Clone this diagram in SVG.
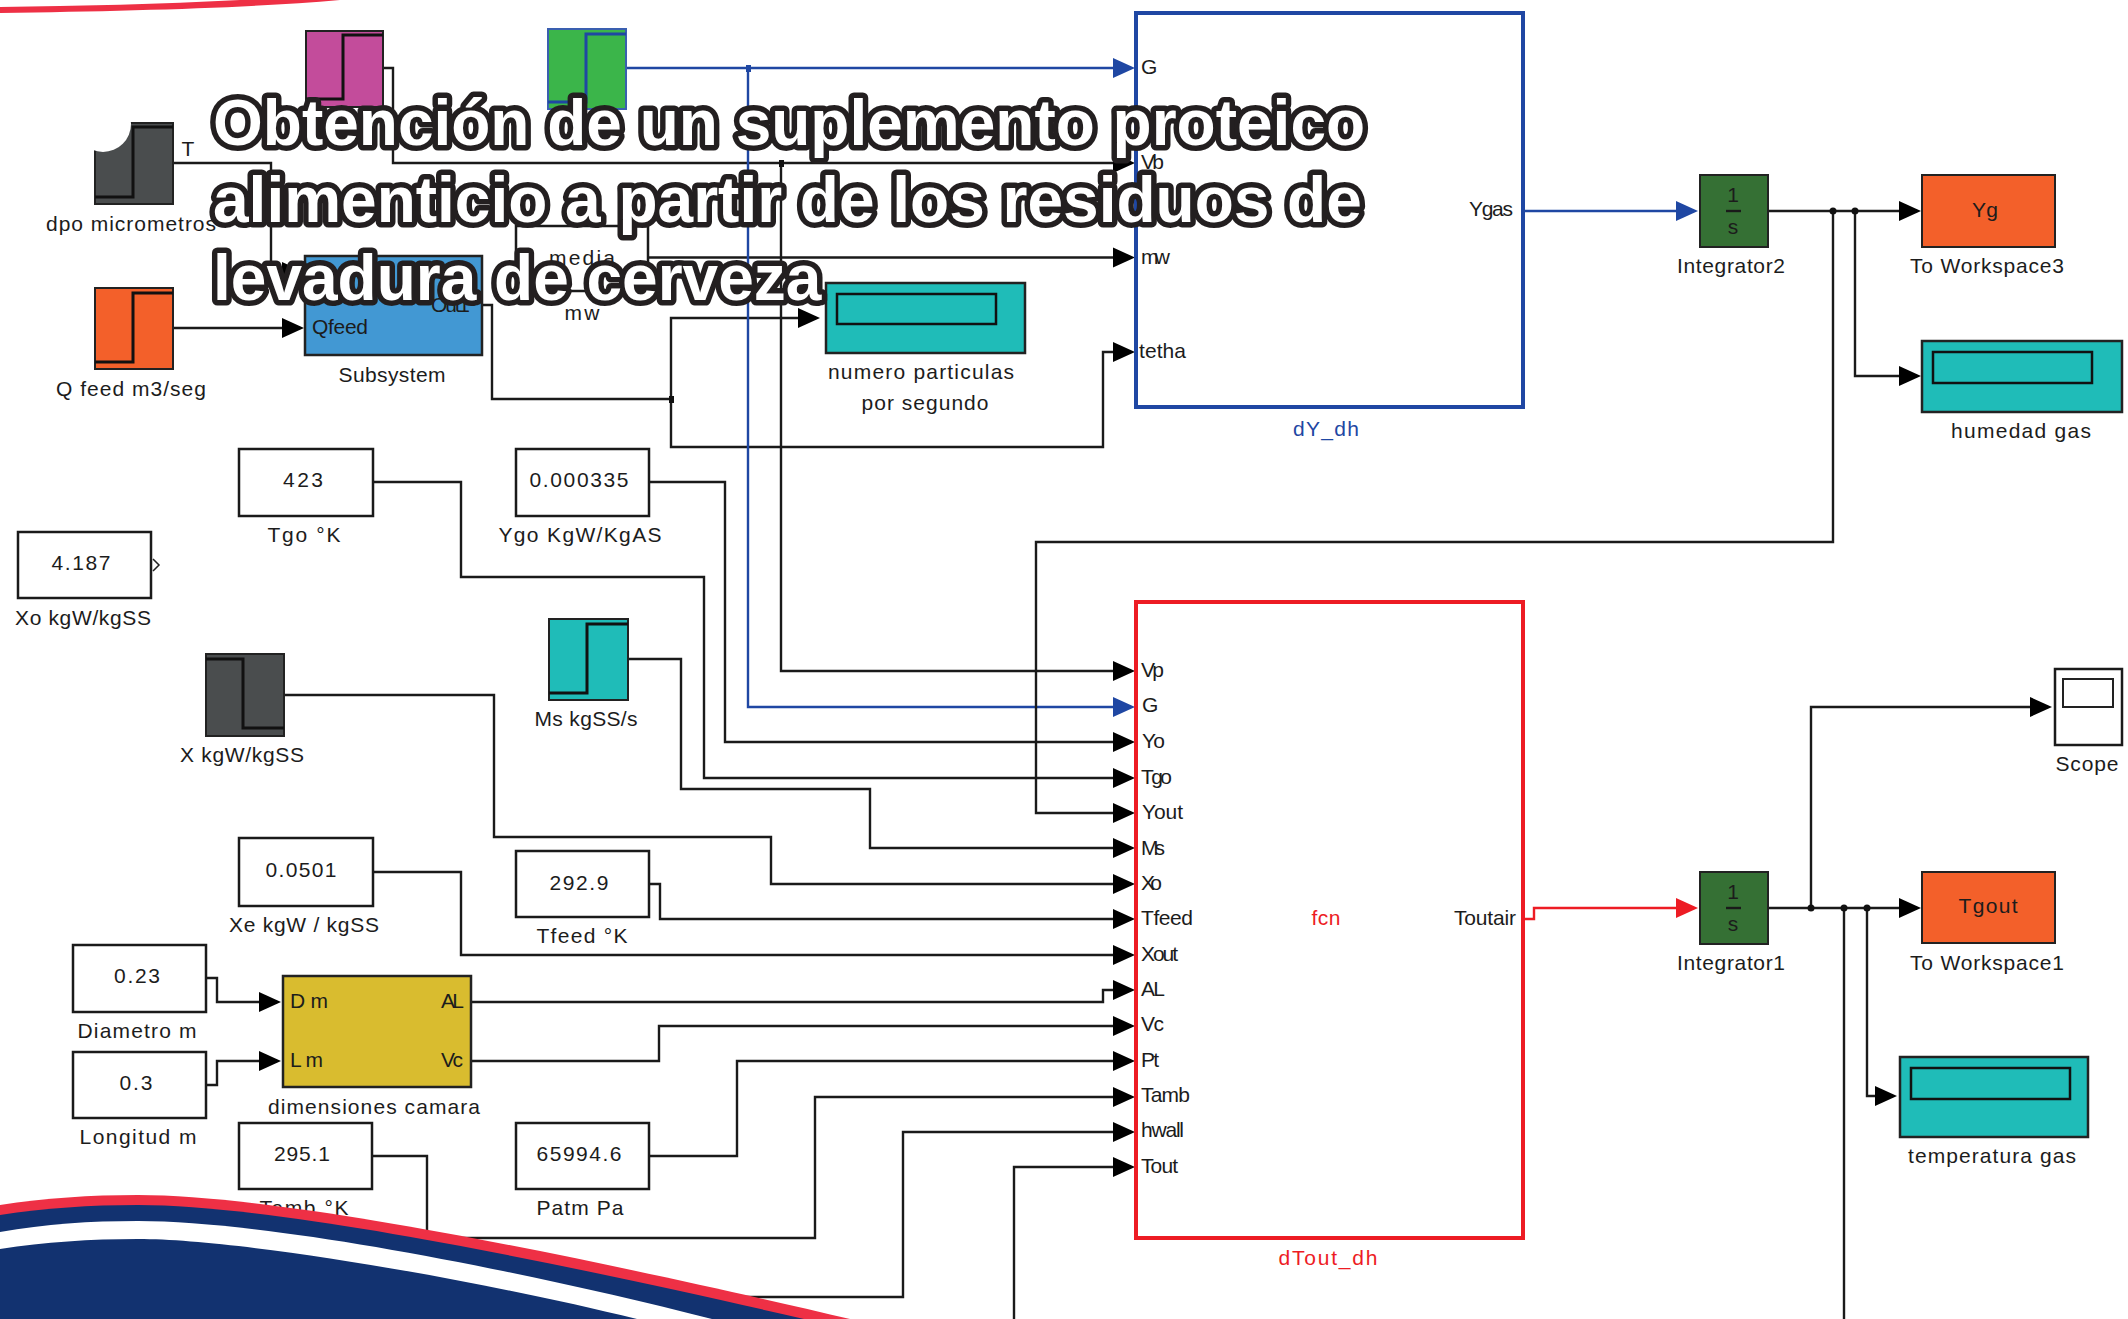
<svg xmlns="http://www.w3.org/2000/svg" width="2128" height="1319" viewBox="0 0 2128 1319">
<style>
text{font-family:"Liberation Sans",Arial,sans-serif;font-size:21px;fill:#1c1c1c}
.m{text-anchor:middle}.e{text-anchor:end}
.b{fill:#fff;stroke:#1a1a1a;stroke-width:2.5}
.s{fill:none;stroke:#111;stroke-width:3}
.w{fill:none;stroke:#1a1a1a;stroke-width:2.4}
.wb{fill:none;stroke:#1f47a3;stroke-width:2.4}
.wr{fill:none;stroke:#ed1c24;stroke-width:2.4}
.a{marker-end:url(#ak)}.ab{marker-end:url(#ab)}.ar{marker-end:url(#ar)}
.t{font-family:"Liberation Sans",Arial,sans-serif;font-weight:700;font-size:64px;fill:#fff;stroke:#231f20;stroke-width:11;stroke-linejoin:round;paint-order:stroke}
</style>
<defs>
<marker id="ak" markerUnits="userSpaceOnUse" markerWidth="24" markerHeight="24" viewBox="0 0 24 24" refX="18" refY="12" orient="auto"><path d="M0 2L22 12L0 22Z" fill="#000"/></marker>
<marker id="ab" markerUnits="userSpaceOnUse" markerWidth="24" markerHeight="24" viewBox="0 0 24 24" refX="18" refY="12" orient="auto"><path d="M0 2L22 12L0 22Z" fill="#1f47a3"/></marker>
<marker id="ar" markerUnits="userSpaceOnUse" markerWidth="24" markerHeight="24" viewBox="0 0 24 24" refX="18" refY="12" orient="auto"><path d="M0 2L22 12L0 22Z" fill="#ed1c24"/></marker>
</defs>
<rect width="2128" height="1319" fill="#fff"/>

<g id="connectors">
<path class="w a" d="M383 68H393V163H1131"/>
<path class="w a" d="M781 163V671H1131"/>
<path class="w a" d="M173 163H271V272H300"/>
<path class="w a" d="M173 328H300"/>
<path class="w" d="M482 305H492V399H671"/>
<path class="w a" d="M671 399V318H816"/>
<path class="w a" d="M671 399V447H1103V352H1131"/>
<path class="w a" d="M648 257.500H1131"/>
<path class="wb ab" d="M626 68H1131"/>
<path class="wb ab" d="M748 68V707H1131"/>
<path class="wb ab" d="M1523 211H1694"/>
<path class="w a" d="M1768 211H1917"/>
<path class="w a" d="M1855 211V376H1917"/>
<path class="w a" d="M1833 211V542H1036V813H1131"/>
<path class="w a" d="M373 482H461V577H704V778H1131"/>
<path class="w a" d="M649 482H725V742H1131"/>
<path class="w a" d="M628 659H681V789H870V848H1131"/>
<path class="w a" d="M284 695H494V837H771V884H1131"/>
<path class="w a" d="M373 872H461V955H1131"/>
<path class="w a" d="M649 884H660V919H1131"/>
<path class="w a" d="M206 978H217V1002H277"/>
<path class="w a" d="M206 1085H217V1061H277"/>
<path class="w a" d="M471 1002H1103V990H1131"/>
<path class="w a" d="M471 1061H659V1026H1131"/>
<path class="w a" d="M372 1156H427V1238H815V1097H1131"/>
<path class="w a" d="M649 1156H737V1061H1131"/>
<path class="w a" d="M700 1297H903V1132H1131"/>
<path class="w a" d="M1014 1319V1167H1131"/>
<path class="wr ar" d="M1523 919H1534V908H1694"/>
<path class="w a" d="M1768 908H1917"/>
<path class="w a" d="M1811 908V707H2048"/>
<path class="w a" d="M1867 908V1096H1893"/>
<path class="w" d="M1844 908V1319"/>
<g fill="#111"><rect x="779" y="160" width="5" height="7"/><rect x="669" y="396" width="5" height="7"/><circle cx="1833" cy="211" r="3.500"/><circle cx="1855" cy="211" r="3.500"/><circle cx="1811" cy="908" r="3.500"/><circle cx="1844" cy="908" r="3.500"/><circle cx="1867" cy="908" r="3.500"/></g>
<rect x="746" y="65" width="5" height="7" fill="#1f47a3"/>
</g>

<g id="src-magenta"><rect x="306" y="31" width="77" height="76" fill="#c34c9b" stroke="#222" stroke-width="2"/><path class="s" d="M306 99H343V35H383"/></g>
<g id="src-green"><rect x="548" y="29" width="78" height="80" fill="#3bb54a" stroke="#3a5fb0" stroke-width="2"/><path fill="none" stroke="#1f47a3" stroke-width="3" d="M548 102H586V34H626"/></g>
<g id="dpo-micrometros"><rect x="95" y="123" width="78" height="81" fill="#4a4d4e" stroke="#222" stroke-width="2"/><circle cx="103" cy="124" r="28" fill="#fff"/><rect x="76" y="90" width="60" height="32" fill="#fff"/><path class="s" d="M95 197H133V127H173"/><text x="188" y="156" class="m">T</text><text x="131" y="231" class="m" textLength="170">dpo micrometros</text></g>
<g id="q-feed"><rect x="95" y="288" width="78" height="81" fill="#f3602a" stroke="#222" stroke-width="2"/><path class="s" d="M95 362H133V293H173"/><text x="131" y="396" class="m" textLength="150">Q feed m3/seg</text></g>
<g id="subsystem"><rect x="305" y="256" width="177" height="99" fill="#4298d3" stroke="#222" stroke-width="2.500"/><text x="312" y="334" textLength="56">Qfeed</text><text x="431" y="312" textLength="39">Out1</text><text x="392" y="382" class="m" textLength="107">Subsystem</text></g>
<g id="media"><rect class="b" x="516" y="226" width="132" height="65"/><text x="582" y="265" class="m" textLength="66">media</text><text x="582" y="320" class="m" textLength="35">mw</text></g>
<g id="numero-particulas"><rect x="826" y="283" width="199" height="70" fill="#1fbcb8" stroke="#222" stroke-width="2.500"/><rect x="837" y="294" width="159" height="30" fill="none" stroke="#111" stroke-width="2.500"/><text x="921" y="379" class="m" textLength="186">numero particulas</text><text x="925" y="410" class="m" textLength="127">por segundo</text></g>

<g id="dY_dh"><rect x="1136" y="13" width="387" height="394" fill="#fff" stroke="#1f47a3" stroke-width="4"/><text x="1141" y="74" textLength="13">G</text><text x="1141" y="169" textLength="23">Vb</text><text x="1141" y="264" textLength="29">mw</text><text x="1139" y="358" textLength="47">tetha</text><text x="1469" y="216" textLength="44">Ygas</text><text x="1326" y="436" class="m" textLength="66" style="fill:#1f47a3">dY_dh</text></g>
<g id="integrator2"><rect x="1700" y="175" width="68" height="72" fill="#357034" stroke="#222" stroke-width="2"/><text x="1733" y="202" class="m">1</text><path class="w" d="M1726 211H1741"/><text x="1733" y="234" class="m">s</text><text x="1731" y="273" class="m" textLength="108">Integrator2</text></g>
<g id="to-workspace3"><rect x="1922" y="175" width="133" height="72" fill="#f3602a" stroke="#222" stroke-width="2"/><text x="1985" y="217" class="m" textLength="26">Yg</text><text x="1987" y="273" class="m" textLength="154">To Workspace3</text></g>
<g id="humedad-gas"><rect x="1922" y="341" width="200" height="71" fill="#1fbcb8" stroke="#222" stroke-width="2.500"/><rect x="1933" y="352" width="159" height="31" fill="none" stroke="#111" stroke-width="2.500"/><text x="2021" y="438" class="m" textLength="140">humedad gas</text></g>

<g id="tgo"><rect class="b" x="239" y="449" width="134" height="67"/><text x="303" y="487" class="m" textLength="40">423</text><text x="304" y="542" class="m" textLength="73">Tgo °K</text></g>
<g id="ygo"><rect class="b" x="516" y="449" width="133" height="67"/><text x="579" y="487" class="m" textLength="99">0.000335</text><text x="580" y="542" class="m" textLength="163">Ygo KgW/KgAS</text></g>
<g id="xo"><rect class="b" x="18" y="532" width="133" height="66"/><text x="81" y="570" class="m" textLength="59">4.187</text><text x="83" y="625" class="m" textLength="136">Xo kgW/kgSS</text><path fill="none" stroke="#222" stroke-width="1.500" d="M153 559L159 565L153 571"/></g>
<g id="ms"><rect x="549" y="619" width="79" height="81" fill="#1fbcb8" stroke="#222" stroke-width="2"/><path class="s" d="M549 693H587V624H628"/><text x="586" y="726" class="m" textLength="103">Ms kgSS/s</text></g>
<g id="x"><rect x="206" y="654" width="78" height="82" fill="#4a4d4e" stroke="#222" stroke-width="2"/><path class="s" d="M206 659H243V728H284"/><text x="242" y="762" class="m" textLength="124">X kgW/kgSS</text></g>
<g id="xe"><rect class="b" x="239" y="838" width="134" height="68"/><text x="301" y="877" class="m" textLength="71">0.0501</text><text x="304" y="932" class="m" textLength="150">Xe kgW / kgSS</text></g>
<g id="tfeed"><rect class="b" x="516" y="851" width="133" height="66"/><text x="579" y="890" class="m" textLength="59">292.9</text><text x="582" y="943" class="m" textLength="91">Tfeed °K</text></g>
<g id="diametro"><rect class="b" x="73" y="945" width="133" height="67"/><text x="137" y="983" class="m" textLength="46">0.23</text><text x="137" y="1038" class="m" textLength="119">Diametro m</text></g>
<g id="longitud"><rect class="b" x="73" y="1052" width="133" height="66"/><text x="136" y="1090" class="m" textLength="33">0.3</text><text x="138" y="1144" class="m" textLength="117">Longitud m</text></g>
<g id="dimensiones-camara"><rect x="283" y="976" width="188" height="111" fill="#d9bc2f" stroke="#222" stroke-width="2.500"/><text x="290" y="1008" textLength="38">D m</text><text x="290" y="1067" textLength="33">L m</text><text x="441" y="1008" textLength="23">AL</text><text x="441" y="1067" textLength="22">Vc</text><text x="374" y="1114" class="m" textLength="212">dimensiones camara</text></g>
<g id="tamb"><rect class="b" x="239" y="1123" width="133" height="66"/><text x="302" y="1161" class="m" textLength="56">295.1</text><text x="304" y="1215" class="m" textLength="89">Tamb °K</text></g>
<g id="patm"><rect class="b" x="516" y="1123" width="133" height="66"/><text x="579" y="1161" class="m" textLength="85">65994.6</text><text x="580" y="1215" class="m" textLength="87">Patm Pa</text></g>

<g id="dTout_dh"><rect x="1136" y="602" width="387" height="636" fill="#fff" stroke="#ed1c24" stroke-width="4"/>
<text x="1141" y="677" textLength="23">Vp</text><text x="1142" y="712" textLength="13">G</text><text x="1142" y="748" textLength="23">Yo</text><text x="1141" y="784" textLength="31">Tgo</text><text x="1142" y="819" textLength="41">Yout</text><text x="1141" y="855" textLength="24">Ms</text><text x="1141" y="890" textLength="21">Xo</text><text x="1141" y="925" textLength="52">Tfeed</text><text x="1141" y="961" textLength="37">Xout</text><text x="1141" y="996" textLength="24">AL</text><text x="1141" y="1031" textLength="23">Vc</text><text x="1141" y="1067" textLength="18">Pt</text><text x="1141" y="1102" textLength="49">Tamb</text><text x="1141" y="1137" textLength="43">hwall</text><text x="1141" y="1173" textLength="37">Tout</text>
<text x="1454" y="925" textLength="62">Toutair</text><text x="1326" y="925" class="m" textLength="29" style="fill:#ed1c24">fcn</text><text x="1328" y="1265" class="m" textLength="99" style="fill:#ed1c24">dTout_dh</text></g>
<g id="integrator1"><rect x="1700" y="872" width="68" height="72" fill="#357034" stroke="#222" stroke-width="2"/><text x="1733" y="899" class="m">1</text><path class="w" d="M1726 908H1741"/><text x="1733" y="931" class="m">s</text><text x="1731" y="970" class="m" textLength="108">Integrator1</text></g>
<g id="to-workspace1"><rect x="1922" y="872" width="133" height="71" fill="#f3602a" stroke="#222" stroke-width="2"/><text x="1988" y="913" class="m" textLength="59">Tgout</text><text x="1987" y="970" class="m" textLength="154">To Workspace1</text></g>
<g id="scope"><rect class="b" x="2055" y="669" width="67" height="76"/><rect x="2063" y="679" width="50" height="28" fill="none" stroke="#222" stroke-width="2"/><text x="2087" y="771" class="m" textLength="63">Scope</text></g>
<g id="temperatura-gas"><rect x="1900" y="1057" width="188" height="80" fill="#1fbcb8" stroke="#222" stroke-width="2.500"/><rect x="1911" y="1068" width="159" height="31" fill="none" stroke="#111" stroke-width="2.500"/><text x="1992" y="1163" class="m" textLength="168">temperatura gas</text></g>

<g id="waves">
<path fill="#ee3045" d="M0 7C80 6 160 4 240 0H340C250 8 130 11 0 13Z"/>
<path fill="#ee3045" d="M0 1205C45 1198 90 1195 138 1195C300 1195 640 1270 850 1319H0Z"/>
<path fill="#123270" d="M0 1215C45 1208 90 1205 138 1205C290 1205 600 1272 804 1319H0Z"/>
<path fill="#fff" d="M0 1232C45 1224 90 1221 138 1221C270 1221 520 1270 712 1319H0Z"/>
<path fill="#123270" d="M0 1249C45 1242 90 1239 138 1239C240 1239 470 1278 637 1319H0Z"/>
</g>
<g id="title">
<text class="t" x="213" y="145">Obtención de un suplemento proteico</text>
<text class="t" x="213" y="222">alimenticio a partir de los residuos de</text>
<text class="t" x="213" y="300">levadura de cerveza</text>
</g>
</svg>
